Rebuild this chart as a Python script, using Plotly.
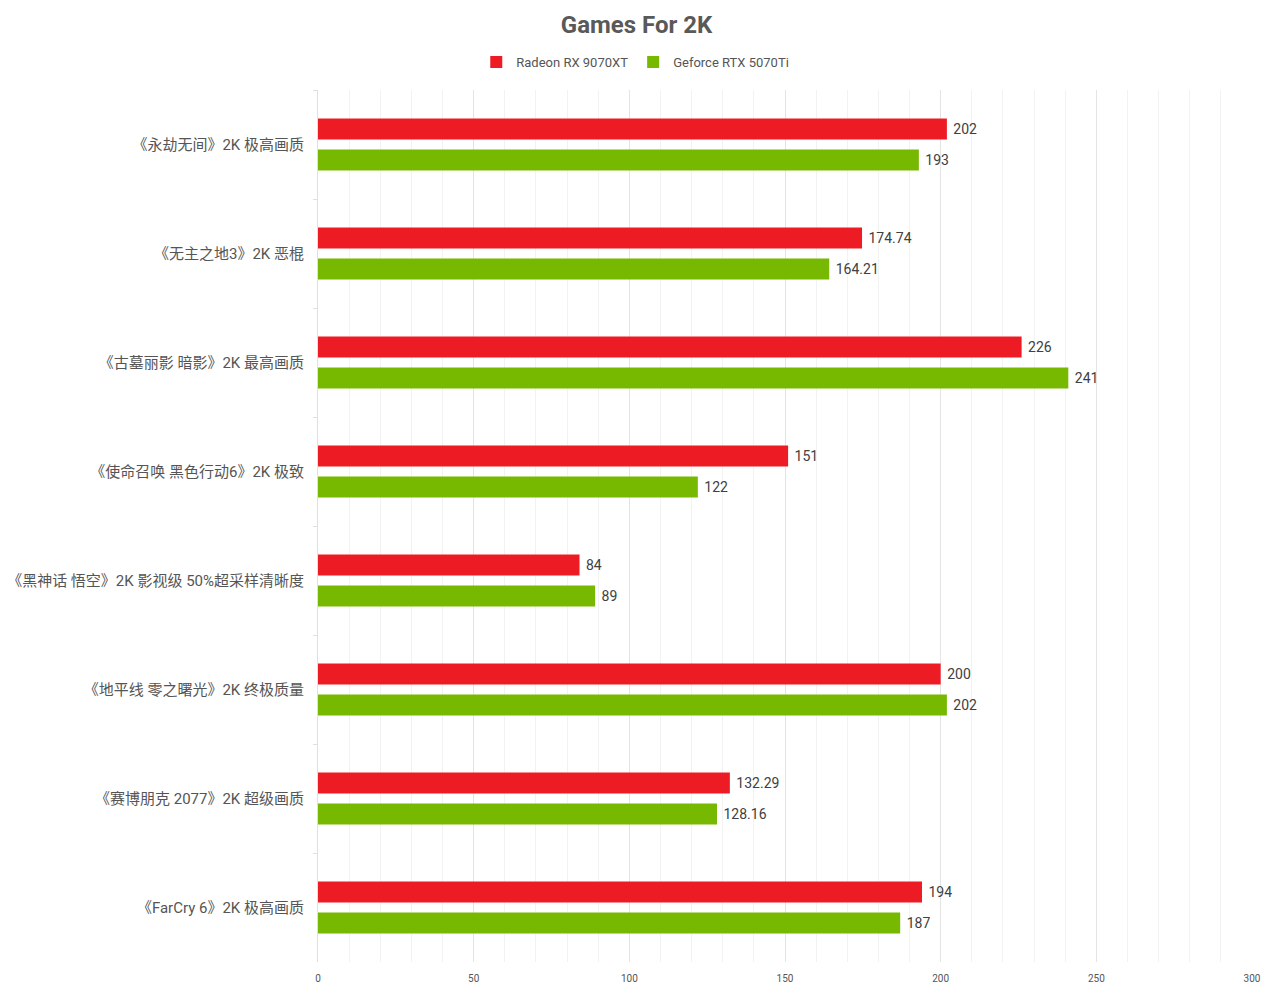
import plotly.graph_objects as go

categories = [
    "《永劫无间》2K 极高画质",
    "《无主之地3》2K 恶棍",
    "《古墓丽影 暗影》2K 最高画质",
    "《使命召唤 黑色行动6》2K 极致",
    "《黑神话 悟空》2K 影视级 50%超采样清晰度",
    "《地平线 零之曙光》2K 终极质量",
    "《赛博朋克 2077》2K 超级画质",
    "《FarCry 6》2K 极高画质",
]
radeon = [202, 174.74, 226, 151, 84, 200, 132.29, 194]
geforce = [193, 164.21, 241, 122, 89, 202, 128.16, 187]
radeon_labels = ["202", "174.74", "226", "151", "84", "200", "132.29", "194"]
geforce_labels = ["193", "164.21", "241", "122", "89", "202", "128.16", "187"]

FONT = "Roboto, 'Noto Sans CJK SC', sans-serif"
PAD = "\u00a0"

fig = go.Figure()
fig.add_trace(go.Bar(
    y=categories, x=radeon, orientation="h", name="Radeon RX 9070XT",
    marker=dict(color="#ED1C24", line=dict(width=0)),
    text=[PAD + t for t in radeon_labels], textposition="outside", cliponaxis=False,
    textfont=dict(size=14, color="#404040", family=FONT),
))
fig.add_trace(go.Bar(
    y=categories, x=geforce, orientation="h", name="Geforce RTX 5070Ti",
    marker=dict(color="#76B900", line=dict(width=0)),
    text=[PAD + t for t in geforce_labels], textposition="outside", cliponaxis=False,
    textfont=dict(size=14, color="#404040", family=FONT),
))

fig.update_layout(
    width=1268, height=989,
    margin=dict(l=318, r=16, t=90, b=27),
    paper_bgcolor="white", plot_bgcolor="white",
    font=dict(family=FONT, color="#555555"),
    title=dict(text="<b>Games For 2K</b>", x=0.502, xref="container", xanchor="center",
               y=1 - 25 / 989, yref="container", yanchor="middle",
               font=dict(size=24, color="#595959", family=FONT)),
    legend=dict(orientation="h", xref="container", yref="container",
                x=0.501, xanchor="center", y=1 - 62 / 989, yanchor="middle",
                font=dict(size=13, color="#555555", family=FONT),
                traceorder="normal", itemwidth=30),
    barmode="group", bargap=0.43, bargroupgap=0.32,
    showlegend=True,
)
fig.update_xaxes(
    range=[0, 300], dtick=50, tick0=0, showgrid=True, gridcolor="#e4e4e4", gridwidth=1,
    minor=dict(dtick=10, showgrid=True, gridcolor="#f2f2f2", gridwidth=1),
    zeroline=False, showline=False, ticks="", automargin=False,
    ticklabelstandoff=9,
    tickfont=dict(size=10, color="#555555", family=FONT),
)
fig.update_yaxes(
    autorange="reversed", tickson="boundaries", ticks="outside", ticklen=4,
    tickcolor="#e0e0e0", showline=True, linecolor="#e0e0e0", linewidth=1,
    showgrid=False, ticklabelstandoff=10, automargin=False,
    tickfont=dict(size=15, color="#555555", family=FONT),
)

fig.write_html("out.html")
